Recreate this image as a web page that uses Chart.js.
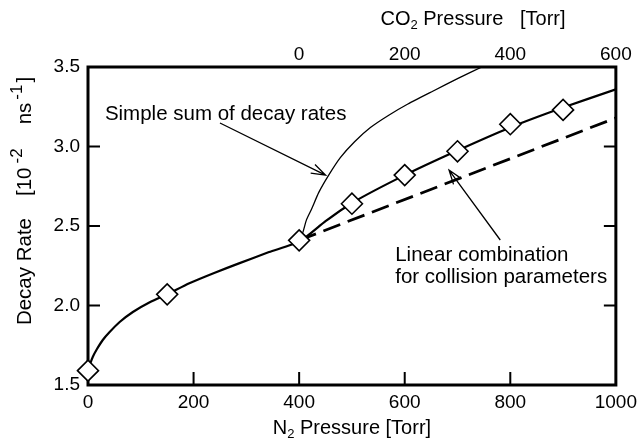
<!DOCTYPE html>
<html><head><meta charset="utf-8">
<script src="https://cdn.jsdelivr.net/npm/chart.js@4/dist/chart.umd.min.js"></script>
<style>html,body{margin:0;padding:0;background:#fff;}</style>
</head><body>
<canvas id="c" width="643" height="438"></canvas>
<script>
// ---- data ----
const n2TickValues = [0, 200, 400, 600, 800, 1000];
const co2TickValues = [0, 200, 400, 600];
const rateTickValues = [1.5, 2.0, 2.5, 3.0, 3.5];
const innerTickN2 = [200, 400, 600, 800];
const innerTickRate = [2.0, 2.5, 3.0];

const measuredN2 = [0, 150, 400, 500, 600, 700, 800, 900];
const measuredRate = [1.59, 2.07, 2.41, 2.64, 2.82, 2.97, 3.14, 3.23];

const fitN2 = [0, 4, 9, 17, 28, 41, 60, 85, 117, 151, 192, 239, 286, 343, 402, 450, 500, 600, 700, 800, 900, 1000];
const fitRate = [1.588, 1.632, 1.676, 1.726, 1.783, 1.833, 1.896, 1.959, 2.020, 2.072, 2.140, 2.205, 2.265, 2.336, 2.405,
                 2.53, 2.645, 2.82, 2.975, 3.12, 3.245, 3.36];

const linearN2 = [400, 1000];
const linearRate = [2.41, 3.18];

const sumN2 = [400, 407, 414, 424, 437, 456, 478, 505, 535, 569, 606, 654, 701, 748, 780];
const sumRate = [2.41, 2.46, 2.54, 2.61, 2.71, 2.82, 2.93, 3.03, 3.119, 3.195, 3.267, 3.349, 3.428, 3.503, 3.55];

const FONT = '"Liberation Sans", Arial, Helvetica, sans-serif';
const toXY = (xs, ys) => xs.map((x, i) => ({ x: x, y: ys[i] }));

function drawRich(ctx, parts, x, y, size, supSize) {
  const big = size + 'px ' + FONT, small = (supSize || Math.round(size * 0.66)) + 'px ' + FONT;
  const widthOf = p => { if (p.gap) return p.gap; ctx.font = (p.sub || p.sup) ? small : big; return ctx.measureText(p.t).width; };
  let w = 0;
  parts.forEach(p => { w += widthOf(p); });
  let cx = x - w / 2;
  ctx.textBaseline = 'middle';
  ctx.textAlign = 'left';
  parts.forEach(p => {
    if (!p.gap) {
      ctx.font = (p.sub || p.sup) ? small : big;
      const dy = p.sub ? size * 0.3 : (p.sup ? -size * 0.36 : 0);
      ctx.fillText(p.t, cx, y + dy);
    }
    cx += widthOf(p);
  });
}

function arrow(ctx, x1, y1, x2, y2) {
  const a = Math.atan2(y2 - y1, x2 - x1), L = 15, s = 0.33;
  ctx.beginPath();
  ctx.moveTo(x1, y1); ctx.lineTo(x2, y2);
  ctx.moveTo(x2 - L * Math.cos(a - s), y2 - L * Math.sin(a - s));
  ctx.lineTo(x2, y2);
  ctx.lineTo(x2 - L * Math.cos(a + s), y2 - L * Math.sin(a + s));
  ctx.stroke();
}

const decor = {
  id: 'decor',
  beforeDatasetsDraw(chart) {
    const ctx = chart.ctx, a = chart.chartArea;
    const xs = chart.scales.x, ys = chart.scales.y;
    ctx.save();
    ctx.strokeStyle = '#000';
    ctx.lineWidth = 3;
    ctx.strokeRect(a.left, a.top, a.right - a.left, a.bottom - a.top);
    ctx.lineWidth = 2;
    ctx.beginPath();
    innerTickN2.forEach(v => { const px = xs.getPixelForValue(v); ctx.moveTo(px, a.bottom); ctx.lineTo(px, a.bottom - 13); });
    innerTickRate.forEach(v => {
      const py = ys.getPixelForValue(v);
      ctx.moveTo(a.left, py); ctx.lineTo(a.left + 12, py);
      ctx.moveTo(a.right, py); ctx.lineTo(a.right - 12, py);
    });
    ctx.stroke();
    ctx.restore();
  },
  afterDatasetsDraw(chart) {
    const ctx = chart.ctx, a = chart.chartArea;
    const xs = chart.scales.x, ys = chart.scales.y;
    ctx.save();
    ctx.strokeStyle = '#000'; ctx.fillStyle = '#000';
    ctx.lineWidth = 1.3;
    arrow(ctx, xs.getPixelForValue(250), ys.getPixelForValue(3.148), xs.getPixelForValue(450), ys.getPixelForValue(2.82));
    arrow(ctx, xs.getPixelForValue(781), ys.getPixelForValue(2.412), xs.getPixelForValue(684), ys.getPixelForValue(2.852));
    ctx.font = '20.5px ' + FONT;
    ctx.textAlign = 'left'; ctx.textBaseline = 'middle';
    ctx.fillText('Simple sum of decay rates', xs.getPixelForValue(32), ys.getPixelForValue(3.204));
    ctx.fillText('Linear combination', xs.getPixelForValue(582), ys.getPixelForValue(2.318));
    ctx.fillText('for collision parameters', xs.getPixelForValue(582), ys.getPixelForValue(2.179));
    drawRich(ctx, [{ t: 'N' }, { t: '2', sub: true }, { t: ' Pressure [Torr]' }], (a.left + a.right) / 2, 428, 20);
    drawRich(ctx, [{ t: 'CO' }, { t: '2', sub: true }, { t: ' Pressure   [Torr]' }], 473, 19, 20);
    ctx.translate(25, 201);
    ctx.rotate(-Math.PI / 2);
    drawRich(ctx, [{ t: 'Decay Rate' }, { gap: 22 }, { t: '[10' }, { gap: 4 }, { t: '-2', sup: true }, { gap: 24 },
      { t: 'ns' }, { gap: 3 }, { t: '-1', sup: true }, { gap: 2 }, { t: ']' }], 0, 0, 20.5, 17);
    ctx.restore();
  }
};

const tickFont = { family: FONT, size: 19 };
const noGrid = { display: false, drawTicks: false, tickLength: 0 };
new Chart(document.getElementById('c'), {
  type: 'line',
  data: {
    datasets: [
      { data: toXY(measuredN2, measuredRate), showLine: false, pointStyle: 'rectRot', pointRadius: 10.5, clip: false,
        pointBackgroundColor: '#fff', pointBorderColor: '#000', pointBorderWidth: 1.6, xAxisID: 'x', yAxisID: 'y' },
      { data: toXY(fitN2, fitRate), borderColor: '#000', borderWidth: 2.2, pointRadius: 0,
        tension: 0.2, xAxisID: 'x', yAxisID: 'y' },
      { data: toXY(linearN2, linearRate), borderColor: '#000', borderWidth: 2.8, borderDash: [18, 8], pointRadius: 0, xAxisID: 'x', yAxisID: 'y' },
      { data: toXY(sumN2, sumRate), borderColor: '#000', borderWidth: 1.3, pointRadius: 0,
        tension: 0.2, xAxisID: 'x', yAxisID: 'y' }
    ]
  },
  options: {
    responsive: false, animation: false, devicePixelRatio: 1,
    layout: { padding: 0 },
    plugins: { legend: { display: false }, tooltip: { enabled: false } },
    scales: {
      x: { type: 'linear', position: 'bottom', min: 0, max: 1000,
        afterBuildTicks: s => { s.ticks = n2TickValues.map(v => ({ value: v })); },
        ticks: { font: tickFont, color: '#000', padding: 6, maxRotation: 0, callback: v => String(v) },
        grid: noGrid, border: { display: false },
        afterFit: s => { s.height = 53; } },
      x2: { type: 'linear', position: 'top', min: -400, max: 600,
        afterBuildTicks: s => { s.ticks = co2TickValues.map(v => ({ value: v })); },
        ticks: { font: tickFont, color: '#000', padding: 1, maxRotation: 0, callback: v => String(v) },
        grid: noGrid, border: { display: false },
        afterFit: s => { s.height = 67; } },
      y: { type: 'linear', position: 'left', min: 1.5, max: 3.5,
        afterBuildTicks: s => { s.ticks = rateTickValues.map(v => ({ value: v })); },
        ticks: { font: tickFont, color: '#000', padding: 8, callback: v => v.toFixed(1) },
        grid: noGrid, border: { display: false },
        afterFit: s => { s.width = 88; } },
      y2: { type: 'linear', position: 'right', min: 1.5, max: 3.5,
        ticks: { display: false }, grid: noGrid, border: { display: false },
        afterFit: s => { s.width = 24; } }
    }
  },
  plugins: [decor]
});
</script>
</body></html>
